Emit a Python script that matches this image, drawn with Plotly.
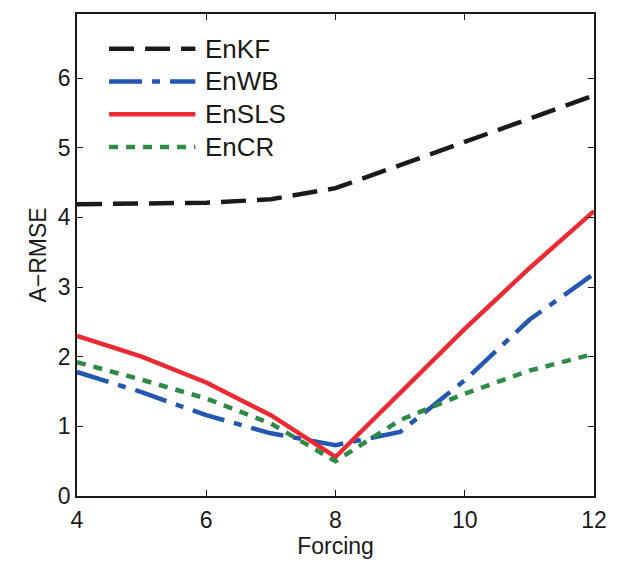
import plotly.graph_objects as go

forcing = [4, 5, 6, 7, 8, 9, 10, 11, 12]
enkf = [4.19, 4.20, 4.21, 4.26, 4.42, 4.75, 5.08, 5.42, 5.75]
enwb = [1.78, 1.49, 1.16, 0.90, 0.73, 0.92, 1.66, 2.53, 3.19]
ensls = [2.30, 2.00, 1.63, 1.16, 0.56, 1.49, 2.40, 3.27, 4.09]
encr = [1.92, 1.67, 1.40, 1.04, 0.50, 1.09, 1.47, 1.80, 2.04]

names = ["EnKF", "EnWB", "EnSLS", "EnCR"]
colors = ["#1c1a1a", "#2458b0", "#ec2a33", "#2e8a45"]
dashes = ["25px,11px", "33px,10px,8px,10px", "solid", "9px,8px"]
series = [enkf, enwb, ensls, encr]

FONT = "Liberation Sans, Arial, sans-serif"
fig = go.Figure()
for n, c, d, s in zip(names, colors, dashes, series):
    fig.add_trace(go.Scatter(x=forcing, y=s, mode="lines", name=n,
                             line=dict(color=c, width=4.5, dash=d),
                             showlegend=False))

# custom legend (long line samples like the original)
leg_y = [0.928, 0.860, 0.792, 0.724]
for n, c, d, yy in zip(names, colors, dashes, leg_y):
    fig.add_shape(type="line", xref="paper", yref="paper",
                  x0=0.062, x1=0.229, y0=yy, y1=yy,
                  line=dict(color=c, width=4.5, dash=d))
    fig.add_annotation(xref="paper", yref="paper", x=0.244, y=yy,
                       text=n, showarrow=False, xanchor="left", yanchor="middle",
                       font=dict(family=FONT, size=26, color="#1a1a1a"))

axis_common = dict(showline=True, linecolor="#1a1a1a", linewidth=1.5, mirror="ticks",
                   ticks="inside", ticklen=6, tickcolor="#1a1a1a", tickwidth=1,
                   showgrid=False, zeroline=False,
                   tickfont=dict(family=FONT, size=23, color="#1a1a1a"))

fig.update_layout(
    width=615, height=560,
    margin=dict(l=69, r=29, t=4, b=72),
    paper_bgcolor="white", plot_bgcolor="white",
    xaxis=dict(range=[4, 12], tickvals=[4, 6, 8, 10, 12], ticklabelstandoff=3,
               title=dict(text="Forcing", font=dict(family=FONT, size=23, color="#1a1a1a"), standoff=4),
               **axis_common),
    yaxis=dict(range=[0, 6.92], tickvals=[0, 1, 2, 3, 4, 5, 6],
               title=dict(text="A−RMSE", font=dict(family=FONT, size=23, color="#1a1a1a"), standoff=5),
               **axis_common),
)
fig.write_html("out.html")
